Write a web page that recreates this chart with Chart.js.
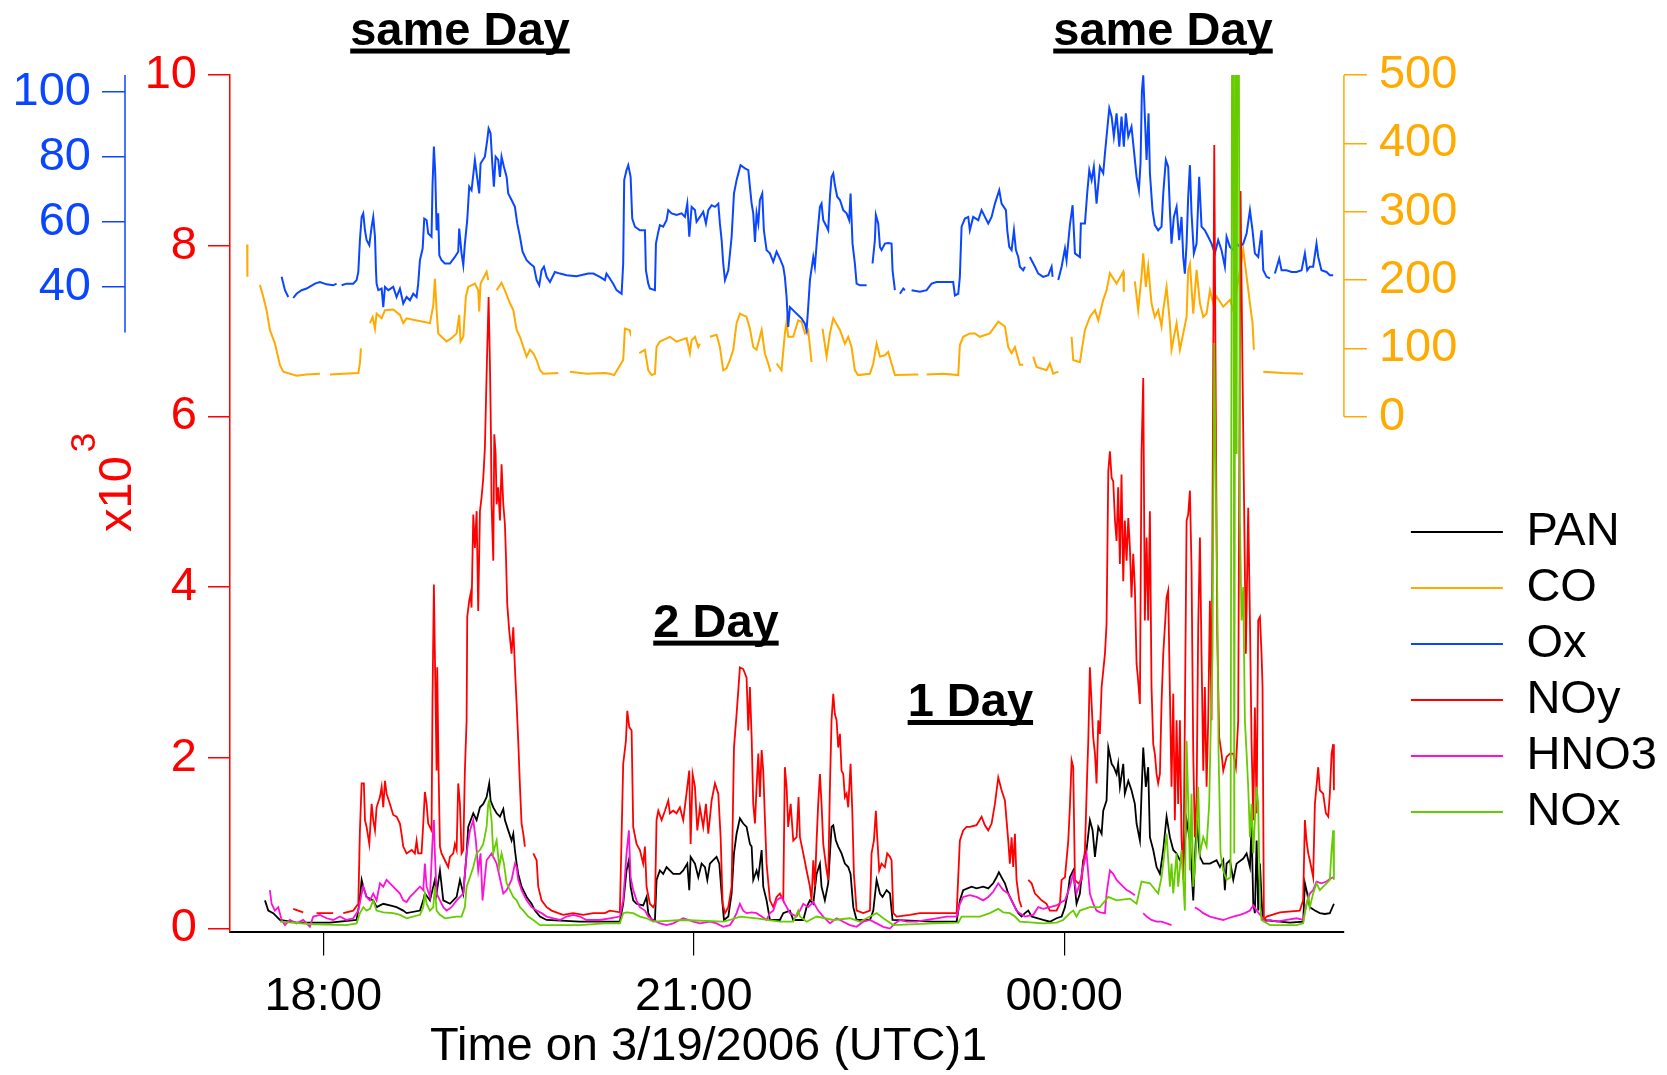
<!DOCTYPE html>
<html>
<head>
<meta charset="utf-8">
<script src="https://cdn.jsdelivr.net/npm/chart.js@4.4.1/dist/chart.umd.min.js"></script>
<style>
  html, body { margin: 0; padding: 0; background: #fff; }
  canvas { display: block; }
</style>
</head>
<body>
<canvas id="chart" width="1667" height="1075"></canvas>
<script>
// Time in decimal hours on 3/19/2006 UTC (24+ = after midnight), value pairs.
// NOy, PAN, HNO3, NOx are in units of the red axis (x10^3); gaps are nulls.
const timeTicks = [18, 21, 24];
const redTicks = [0, 2, 4, 6, 8, 10];
const oxTicks = [40, 60, 80, 100];
const coTicks = [0, 100, 200, 300, 400, 500];

const coPoints = [
  [17.384,252],[17.386,205],[17.40,null],
  [17.487,193],[17.514,176],[17.541,156],[17.568,127],[17.609,107],[17.649,76],[17.676,66],[17.784,60],[17.865,62],[17.973,63],[17.99,null],
  [18.054,62],[18.162,63],[18.284,64],[18.297,78],[18.305,100],[18.33,null],
  [18.378,137],[18.400,146],[18.419,129],[18.432,151],[18.473,144],[18.500,156],[18.567,157],[18.621,149],[18.648,137],[18.675,144],
  [18.756,141],[18.810,139],[18.864,137],[18.891,163],[18.904,202],[18.918,156],[18.931,122],[18.958,117],[18.999,110],[19.039,115],
  [19.080,122],[19.101,149],[19.112,110],[19.134,117],[19.155,176],[19.174,190],[19.228,195],[19.255,185],[19.263,154],[19.274,195],
  [19.323,212],[19.336,200],[19.35,null],
  [19.404,185],[19.444,196],[19.471,185],[19.512,166],[19.539,156],[19.566,127],[19.593,117],[19.620,102],[19.647,88],[19.674,98],
  [19.701,93],[19.728,83],[19.755,68],[19.782,63],[19.903,64],[19.93,null],
  [19.997,66],[20.132,63],[20.281,64],[20.321,63],[20.356,61],[20.429,83],[20.443,129],[20.478,127],[20.484,124],[20.50,null],
  [20.559,93],[20.605,98],[20.632,68],[20.659,61],[20.686,63],[20.699,102],[20.726,110],[20.807,117],[20.861,110],[20.942,115],
  [20.969,93],[20.983,112],[21.010,117],[21.037,102],[21.050,107],[21.07,null],
  [21.131,117],[21.185,120],[21.212,102],[21.239,68],[21.266,71],[21.293,83],[21.320,98],[21.347,137],[21.374,151],[21.428,146],
  [21.455,129],[21.482,102],[21.509,98],[21.550,127],[21.576,93],[21.603,78],[21.622,66],[21.64,null],
  [21.671,78],[21.711,68],[21.738,122],[21.752,139],[21.765,117],[21.806,117],[21.846,141],[21.873,139],[21.900,122],[21.927,127],[21.954,80],[21.97,null],
  [22.043,129],[22.076,88],[22.103,122],[22.130,144],[22.184,127],[22.224,107],[22.251,117],[22.278,102],[22.305,68],[22.332,61],
  [22.427,63],[22.454,78],[22.481,107],[22.508,88],[22.548,90],[22.575,95],[22.602,78],[22.629,61],[22.818,62],[22.84,null],
  [22.886,62],[23.020,63],[23.142,61],[23.155,105],[23.182,117],[23.236,122],[23.277,122],[23.317,117],[23.398,122],[23.466,139],
  [23.520,132],[23.547,102],[23.574,93],[23.601,102],[23.641,76],[23.668,76],[23.69,null],
  [23.749,88],[23.776,73],[23.857,68],[23.884,78],[23.911,63],[23.952,66],[23.99,null],
  [24.060,117],[24.073,83],[24.127,80],[24.168,127],[24.208,146],[24.249,156],[24.276,141],[24.316,171],[24.343,185],[24.370,210],
  [24.424,195],[24.478,212],[24.483,183],[24.50,null],
  [24.572,198],[24.599,156],[24.626,205],[24.640,239],[24.661,190],[24.680,220],[24.707,166],[24.734,146],[24.761,156],[24.788,132],
  [24.802,156],[24.829,190],[24.856,137],[24.869,98],[24.910,137],[24.937,98],[24.964,122],[24.991,146],[25.004,215],[25.018,224],
  [25.045,151],[25.072,215],[25.099,166],[25.126,146],[25.153,151],[25.180,185],[25.207,166],[25.234,176],[25.288,161],[25.315,166],
  [25.342,171],[25.369,156],[25.423,215],[25.450,244],[25.477,205],[25.504,166],[25.525,137],[25.536,98],[25.56,null],
  [25.612,66],[25.773,64],[25.935,63]
];

const oxPoints = [
  [17.663,43.1],[17.690,39.0],[17.717,36.9],[17.73,null],
  [17.757,36.6],[17.784,37.9],[17.825,39.0],[17.865,39.5],[17.933,41.0],[17.973,41.5],[18.027,40.8],[18.081,40.5],[18.108,41.0],[18.12,null],
  [18.149,40.5],[18.189,41.0],[18.243,41.0],[18.270,42.1],[18.284,44.6],[18.297,54.4],[18.311,61.5],[18.324,62.6],[18.338,57.4],[18.351,54.4],
  [18.373,52.8],[18.392,58.5],[18.405,61.5],[18.419,55.4],[18.427,45.1],[18.432,41.0],[18.446,39.0],[18.473,39.5],[18.486,33.8],[18.500,40.0],
  [18.527,39.0],[18.567,40.0],[18.594,36.9],[18.621,39.5],[18.648,34.9],[18.675,36.9],[18.702,35.9],[18.729,37.9],[18.756,36.9],[18.769,41.0],
  [18.783,48.2],[18.805,51.8],[18.818,61.0],[18.837,60.5],[18.850,56.4],[18.877,55.4],[18.885,71.3],[18.896,83.1],[18.907,74.9],[18.918,57.4],
  [18.931,62.6],[18.940,49.7],[18.958,48.2],[18.985,47.2],[19.026,47.2],[19.066,49.2],[19.093,50.8],[19.101,57.9],[19.120,50.3],[19.134,46.7],
  [19.147,53.3],[19.166,60.5],[19.182,70.8],[19.201,69.7],[19.228,79.0],[19.242,74.9],[19.263,68.7],[19.274,77.9],[19.309,80.0],[19.328,85.1],
  [19.339,88.7],[19.355,87.2],[19.369,77.9],[19.382,70.8],[19.396,80.0],[19.417,79.0],[19.431,73.8],[19.444,80.0],[19.463,76.9],[19.485,73.8],
  [19.498,68.7],[19.525,66.7],[19.552,64.6],[19.571,59.5],[19.593,55.4],[19.614,50.8],[19.647,48.2],[19.674,47.2],[19.706,46.2],[19.728,42.1],
  [19.749,40.5],[19.768,45.1],[19.787,46.2],[19.809,43.1],[19.836,41.5],[19.876,44.6],[19.917,44.1],[19.971,43.6],[20.051,43.3],[20.146,44.1],
  [20.187,44.1],[20.240,43.1],[20.281,42.1],[20.294,44.1],[20.321,42.6],[20.348,41.0],[20.375,39.0],[20.416,37.9],[20.429,47.2],[20.437,72.8],
  [20.456,75.9],[20.470,77.4],[20.489,73.8],[20.502,61.0],[20.524,58.5],[20.564,57.4],[20.605,57.4],[20.613,45.1],[20.632,41.0],[20.645,39.5],
  [20.686,39.0],[20.694,53.3],[20.713,56.9],[20.726,59.0],[20.753,58.5],[20.780,60.5],[20.794,63.6],[20.821,62.6],[20.861,62.1],[20.902,62.6],
  [20.929,61.5],[20.948,65.6],[20.964,55.4],[20.983,64.6],[21.010,63.6],[21.023,60.0],[21.050,61.5],[21.077,63.1],[21.099,59.5],[21.118,63.6],
  [21.145,65.1],[21.172,64.6],[21.199,65.6],[21.212,59.5],[21.226,54.4],[21.239,47.2],[21.253,42.1],[21.280,45.1],[21.307,55.4],[21.326,68.7],
  [21.347,72.8],[21.379,77.4],[21.415,76.4],[21.442,75.9],[21.455,70.8],[21.469,65.6],[21.482,62.6],[21.496,53.8],[21.509,62.6],[21.523,59.5],
  [21.536,66.7],[21.555,68.7],[21.568,57.4],[21.590,51.3],[21.617,50.3],[21.644,47.7],[21.671,50.8],[21.698,48.7],[21.725,46.2],[21.738,43.1],
  [21.752,36.9],[21.765,27.7],[21.779,33.8],[21.806,32.8],[21.833,31.8],[21.873,30.3],[21.900,28.7],[21.914,26.7],[21.927,33.8],[21.941,42.1],
  [21.968,49.2],[21.981,46.2],[22.000,55.4],[22.022,64.6],[22.035,65.6],[22.049,60.5],[22.076,58.5],[22.089,57.4],[22.103,67.7],[22.116,73.8],
  [22.130,74.9],[22.143,71.3],[22.162,67.7],[22.184,66.7],[22.211,63.6],[22.238,62.6],[22.259,60.5],[22.270,68.7],[22.286,53.3],[22.305,47.2],
  [22.319,41.0],[22.346,40.5],[22.400,40.5],[22.42,null],
  [22.448,47.2],[22.467,54.4],[22.475,62.1],[22.494,59.5],[22.508,52.3],[22.521,51.3],[22.548,53.3],[22.575,53.5],[22.602,53.3],[22.610,45.1],[22.629,39.0],[22.64,null],
  [22.670,37.9],[22.697,39.5],[22.710,39.0],[22.72,null],
  [22.764,39.0],[22.832,38.5],[22.886,39.0],[22.926,41.0],[22.967,41.5],[23.101,41.5],[23.115,37.4],[23.142,37.9],[23.155,43.1],[23.169,58.5],
  [23.196,61.0],[23.223,61.5],[23.236,57.4],[23.263,61.5],[23.304,60.5],[23.331,63.6],[23.358,61.5],[23.385,59.5],[23.412,61.5],[23.439,65.6],
  [23.474,69.7],[23.493,65.6],[23.528,63.6],[23.539,57.4],[23.555,52.3],[23.574,51.3],[23.593,57.4],[23.609,51.3],[23.628,49.2],[23.641,46.2],
  [23.668,45.1],[23.682,46.2],[23.70,null],
  [23.722,49.2],[23.763,46.2],[23.790,44.1],[23.830,43.1],[23.871,43.6],[23.898,46.2],[23.906,43.1],[23.92,null],
  [23.952,42.1],[23.979,46.2],[24.006,51.8],[24.019,48.2],[24.046,59.0],[24.068,65.1],[24.087,50.3],[24.127,49.2],[24.135,59.5],[24.168,59.5],
  [24.186,68.7],[24.203,75.9],[24.222,72.8],[24.240,76.9],[24.262,65.6],[24.289,76.9],[24.316,74.9],[24.330,81.0],[24.348,88.2],[24.365,94.9],
  [24.384,92.3],[24.402,86.2],[24.424,93.3],[24.446,83.1],[24.464,92.3],[24.483,83.1],[24.499,93.3],[24.519,86.2],[24.545,89.2],[24.564,82.1],
  [24.586,73.8],[24.605,69.7],[24.618,77.9],[24.629,100.0],[24.640,105.0],[24.651,94.4],[24.667,79.0],[24.683,93.3],[24.694,74.9],[24.715,63.6],
  [24.734,59.0],[24.761,57.4],[24.788,58.5],[24.802,68.7],[24.823,79.0],[24.842,76.9],[24.856,63.6],[24.869,53.3],[24.888,61.5],[24.910,64.6],
  [24.931,54.4],[24.950,61.5],[24.964,49.2],[24.977,44.1],[24.991,53.3],[25.004,67.7],[25.018,77.4],[25.031,62.6],[25.050,50.3],[25.072,53.3],
  [25.093,73.8],[25.112,58.5],[25.139,57.4],[25.166,55.4],[25.193,53.3],[25.220,50.3],[25.247,54.4],[25.274,51.3],[25.301,46.2],[25.315,55.4],
  [25.342,52.3],[25.369,51.3],[25.396,53.3],[25.423,52.3],[25.450,53.3],[25.477,56.4],[25.504,63.6],[25.525,57.4],[25.544,50.3],[25.571,49.2],
  [25.598,57.4],[25.612,45.1],[25.639,43.1],[25.666,42.6],[25.68,null],
  [25.706,44.1],[25.741,48.7],[25.760,45.1],[25.800,45.1],[25.841,44.6],[25.881,44.6],[25.922,45.1],[25.949,50.3],[25.968,45.1],[25.989,46.2],
  [26.016,46.2],[26.043,53.3],[26.057,49.2],[26.083,45.1],[26.124,44.6],[26.151,43.6],[26.178,43.6]
];

const noyPoints = [
  [17.757,0.23],[17.838,0.19],[17.85,null],
  [17.946,0.18],[18.081,0.18],[18.09,null],
  [18.162,0.18],[18.243,0.21],[18.284,0.29],[18.297,1.15],[18.311,1.70],[18.329,1.70],[18.338,1.27],[18.351,1.19],[18.373,0.99],[18.392,1.46],
  [18.405,1.27],[18.419,1.15],[18.432,1.42],[18.459,1.54],[18.473,1.66],[18.486,1.42],[18.500,1.73],[18.513,1.58],[18.540,1.46],[18.567,1.33],
  [18.594,1.31],[18.621,1.23],[18.634,1.11],[18.648,0.96],[18.675,0.88],[18.716,0.92],[18.742,0.88],[18.756,1.03],[18.769,0.88],[18.796,0.88],
  [18.810,1.23],[18.823,1.60],[18.837,1.46],[18.850,1.23],[18.877,1.15],[18.885,2.71],[18.896,4.03],[18.904,3.22],[18.918,1.85],[18.923,3.06],
  [18.934,1.85],[18.945,0.96],[18.958,0.88],[18.985,0.80],[19.012,0.72],[19.026,0.84],[19.053,0.88],[19.066,0.99],[19.080,0.92],[19.093,1.70],
  [19.107,1.46],[19.120,0.88],[19.134,0.92],[19.147,1.85],[19.161,2.44],[19.166,3.65],[19.182,3.84],[19.193,3.92],[19.201,3.76],[19.215,4.85],
  [19.228,4.46],[19.242,4.89],[19.255,3.72],[19.269,4.89],[19.282,5.05],[19.296,5.28],[19.309,5.63],[19.323,6.5],[19.339,7.4],[19.350,6.6],
  [19.358,5.8],[19.363,4.97],[19.377,4.31],[19.385,5.79],[19.396,5.56],[19.404,4.97],[19.417,5.17],[19.431,4.78],[19.444,5.44],[19.458,4.97],
  [19.471,4.74],[19.479,4.39],[19.490,3.80],[19.506,3.49],[19.525,3.22],[19.539,3.53],[19.552,3.06],[19.566,2.63],[19.579,2.20],[19.593,1.66],
  [19.606,1.23],[19.620,1.11],[19.633,0.96],[19.65,null],
  [19.701,0.88],[19.728,0.80],[19.741,0.49],[19.768,0.33],[19.809,0.25],[19.849,0.21],[19.903,0.18],[19.943,0.16],[20.024,0.18],[20.105,0.16],
  [20.187,0.18],[20.281,0.18],[20.321,0.21],[20.402,0.19],[20.429,1.93],[20.451,2.20],[20.462,2.55],[20.478,2.36],[20.497,2.32],[20.510,1.19],
  [20.537,0.99],[20.564,0.92],[20.591,0.76],[20.605,0.96],[20.618,0.49],[20.645,0.29],[20.672,0.25],[20.686,0.29],[20.699,1.27],[20.713,1.38],
  [20.740,1.27],[20.767,1.38],[20.794,1.50],[20.807,1.35],[20.834,1.38],[20.861,1.35],[20.888,1.42],[20.915,1.27],[20.948,1.66],[20.964,1.85],
  [20.975,0.99],[20.991,1.81],[21.010,1.66],[21.029,1.15],[21.050,1.42],[21.077,1.19],[21.099,1.46],[21.118,1.11],[21.145,1.50],[21.172,1.70],
  [21.199,1.58],[21.218,1.07],[21.234,0.29],[21.253,0.18],[21.280,0.25],[21.307,0.49],[21.326,2.12],[21.347,2.51],[21.361,2.79],[21.374,3.06],
  [21.401,3.04],[21.428,2.94],[21.442,2.32],[21.455,2.83],[21.469,2.24],[21.482,1.46],[21.496,1.23],[21.509,1.66],[21.523,2.05],[21.536,1.54],
  [21.550,2.09],[21.563,1.85],[21.577,1.27],[21.590,0.76],[21.617,0.33],[21.644,0.25],[21.671,0.37],[21.698,0.41],[21.725,0.33],[21.738,1.89],
  [21.752,1.66],[21.765,1.19],[21.785,1.46],[21.806,1.03],[21.833,1.07],[21.849,1.54],[21.860,1.07],[21.887,0.88],[21.914,0.68],[21.941,0.49],
  [21.954,0.33],[21.968,0.80],[21.981,0.49],[21.995,1.03],[22.008,1.46],[22.022,1.81],[22.035,1.46],[22.049,0.99],[22.076,0.68],[22.089,0.57],
  [22.103,1.66],[22.116,2.44],[22.130,2.75],[22.143,2.51],[22.157,2.44],[22.170,2.12],[22.184,2.28],[22.197,1.85],[22.211,1.81],[22.224,1.54],
  [22.238,1.58],[22.251,1.42],[22.270,1.93],[22.284,1.38],[22.297,0.64],[22.319,0.21],[22.373,0.18],[22.427,0.21],[22.440,0.88],[22.459,1.03],
  [22.475,1.38],[22.486,1.07],[22.502,0.68],[22.521,0.76],[22.548,0.72],[22.567,0.88],[22.589,0.84],[22.602,0.80],[22.616,0.18],[22.643,0.14],
  [22.751,0.16],[22.832,0.18],[22.940,0.18],[23.048,0.18],[23.129,0.18],[23.155,1.03],[23.182,1.15],[23.209,1.19],[23.236,1.19],[23.290,1.21],
  [23.331,1.31],[23.358,1.21],[23.385,1.15],[23.412,1.23],[23.439,1.46],[23.466,1.77],[23.493,1.62],[23.520,1.50],[23.533,1.27],[23.547,1.03],
  [23.560,0.76],[23.574,1.07],[23.587,0.72],[23.601,1.11],[23.614,0.57],[23.636,0.33],[23.655,0.25],[23.67,null],
  [23.709,0.57],[23.736,0.53],[23.763,0.41],[23.790,0.37],[23.817,0.33],[23.857,0.29],[23.884,0.21],[23.938,0.21],[23.965,0.29],[23.979,0.57],
  [24.006,0.60],[24.033,1.03],[24.046,1.42],[24.060,1.97],[24.073,1.89],[24.087,0.57],[24.114,0.53],[24.141,0.57],[24.168,0.92],[24.186,1.81],
  [24.195,2.20],[24.208,3.06],[24.222,2.63],[24.235,2.24],[24.249,2.05],[24.262,1.70],[24.276,2.44],[24.289,2.28],[24.303,2.83],[24.330,3.22],
  [24.343,3.57],[24.357,5.36],[24.370,5.59],[24.384,5.28],[24.397,5.24],[24.411,4.78],[24.424,4.54],[24.437,5.17],[24.451,4.27],[24.464,5.32],
  [24.478,4.07],[24.491,4.78],[24.505,4.31],[24.519,4.81],[24.532,4.46],[24.545,3.88],[24.559,4.39],[24.572,4.00],[24.586,3.10],[24.599,2.90],
  [24.613,2.63],[24.626,5.56],[24.640,6.45],[24.653,3.61],[24.667,4.58],[24.680,3.61],[24.694,4.89],[24.707,2.83],[24.721,2.16],[24.734,2.05],
  [24.748,1.81],[24.761,1.70],[24.775,1.81],[24.788,2.63],[24.802,3.22],[24.815,3.53],[24.829,3.88],[24.842,3.96],[24.856,2.75],[24.869,1.66],
  [24.883,2.75],[24.896,1.27],[24.910,2.44],[24.923,1.46],[24.937,2.44],[24.950,1.07],[24.964,0.57],[24.977,2.44],[24.991,4.78],[25.004,4.85],
  [25.018,5.13],[25.031,4.23],[25.045,2.05],[25.058,1.07],[25.072,1.54],[25.085,3.53],[25.099,4.58],[25.112,3.22],[25.126,1.85],[25.139,2.83],
  [25.153,1.66],[25.166,2.44],[25.180,3.84],[25.193,2.44],[25.215,9.18],[25.228,6.0],[25.239,3.45],[25.255,2.24],[25.274,2.05],[25.288,1.85],
  [25.315,2.01],[25.342,2.05],[25.369,2.05],[25.390,1.89],[25.409,2.44],[25.428,8.64],[25.444,6.5],[25.455,5.17],[25.471,3.22],[25.490,4.93],
  [25.504,3.61],[25.517,2.20],[25.531,1.27],[25.544,2.59],[25.558,1.35],[25.571,3.61],[25.585,3.65],[25.598,3.22],[25.606,2.83],[25.617,0.10],
  [25.639,0.14],[25.747,0.19],[25.908,0.21],[25.935,0.33],[25.949,1.27],[25.962,1.03],[25.976,0.88],[25.989,0.80],[26.016,0.60],[26.030,1.46],
  [26.057,1.89],[26.070,1.62],[26.097,1.58],[26.119,1.35],[26.138,1.31],[26.151,1.58],[26.165,2.05],[26.178,2.16],[26.184,1.62]
];

const panPoints = [
  [17.528,0.33],[17.555,0.21],[17.595,0.18],[17.649,0.10],[17.784,0.07],[18.054,0.07],[18.270,0.10],[18.292,0.29],[18.311,0.57],[18.324,0.49],
  [18.351,0.37],[18.405,0.33],[18.432,0.25],[18.486,0.29],[18.540,0.27],[18.594,0.25],[18.648,0.21],[18.675,0.18],[18.783,0.21],[18.810,0.33],
  [18.823,0.41],[18.864,0.33],[18.904,0.57],[18.918,0.41],[18.945,0.68],[18.972,0.33],[19.026,0.29],[19.080,0.37],[19.107,0.57],[19.134,0.41],
  [19.161,0.88],[19.174,1.19],[19.215,1.35],[19.242,1.27],[19.269,1.42],[19.296,1.46],[19.323,1.54],[19.344,1.70],[19.355,1.50],[19.377,1.42],
  [19.404,1.35],[19.431,1.31],[19.458,1.40],[19.471,1.27],[19.498,1.15],[19.525,1.03],[19.539,1.11],[19.552,0.92],[19.566,0.76],[19.579,0.64],
  [19.606,0.49],[19.647,0.37],[19.687,0.29],[19.714,0.21],[19.755,0.14],[19.809,0.10],[20.078,0.08],[20.281,0.08],[20.402,0.08],[20.429,0.29],
  [20.456,0.68],[20.475,0.80],[20.489,0.49],[20.510,0.33],[20.537,0.29],[20.591,0.27],[20.618,0.37],[20.632,0.18],[20.659,0.10],[20.686,0.10],
  [20.699,0.57],[20.726,0.68],[20.753,0.64],[20.780,0.72],[20.834,0.64],[20.888,0.64],[20.915,0.68],[20.948,0.76],[20.964,0.45],[20.975,0.84],
  [21.010,0.76],[21.037,0.60],[21.064,0.76],[21.091,0.72],[21.110,0.57],[21.131,0.76],[21.158,0.80],[21.185,0.84],[21.207,0.76],[21.226,0.41],
  [21.245,0.10],[21.280,0.14],[21.307,0.41],[21.326,0.88],[21.347,1.11],[21.374,1.29],[21.401,1.23],[21.428,1.19],[21.455,0.99],[21.469,0.96],
  [21.482,0.57],[21.509,0.68],[21.523,0.60],[21.550,0.92],[21.563,0.49],[21.590,0.33],[21.617,0.10],[21.698,0.10],[21.725,0.18],[21.779,0.21],
  [21.806,0.10],[21.887,0.10],[21.914,0.25],[21.941,0.33],[21.968,0.29],[21.995,0.64],[22.022,0.76],[22.035,0.49],[22.062,0.33],[22.089,0.53],
  [22.116,1.19],[22.130,1.21],[22.151,1.03],[22.170,0.96],[22.197,0.88],[22.224,0.76],[22.251,0.72],[22.270,0.64],[22.292,0.25],[22.319,0.10],
  [22.427,0.10],[22.454,0.21],[22.481,0.57],[22.508,0.41],[22.529,0.37],[22.562,0.45],[22.589,0.41],[22.610,0.10],[22.939,0.08],[23.129,0.08],
  [23.155,0.33],[23.182,0.45],[23.250,0.49],[23.290,0.47],[23.344,0.49],[23.385,0.47],[23.425,0.53],[23.452,0.60],[23.471,0.66],[23.493,0.60],
  [23.520,0.53],[23.547,0.41],[23.574,0.33],[23.601,0.25],[23.628,0.18],[23.655,0.14],[23.682,0.18],[23.709,0.21],[23.736,0.14],[23.830,0.10],
  [23.884,0.08],[23.938,0.12],[23.979,0.14],[24.006,0.25],[24.033,0.45],[24.046,0.60],[24.073,0.68],[24.100,0.29],[24.127,0.41],[24.154,0.80],
  [24.181,0.92],[24.208,1.27],[24.230,1.15],[24.249,0.84],[24.276,1.19],[24.303,1.11],[24.316,1.38],[24.343,1.50],[24.357,2.12],[24.384,1.93],
  [24.402,1.89],[24.424,1.81],[24.437,1.93],[24.451,1.66],[24.478,1.93],[24.491,1.58],[24.519,1.73],[24.545,1.62],[24.572,1.46],[24.586,1.23],
  [24.613,1.03],[24.626,1.58],[24.640,2.12],[24.661,1.66],[24.680,1.89],[24.694,1.07],[24.721,0.92],[24.748,0.72],[24.775,0.64],[24.802,0.92],
  [24.829,1.31],[24.856,1.07],[24.883,0.92],[24.910,0.88],[24.937,0.80],[24.964,0.76],[24.991,1.27],[25.018,1.03],[25.045,0.33],[25.072,1.27],
  [25.099,0.84],[25.126,0.76],[25.180,0.76],[25.234,0.80],[25.261,0.72],[25.288,0.80],[25.301,0.45],[25.315,0.76],[25.342,0.80],[25.369,0.57],
  [25.396,0.76],[25.450,0.82],[25.477,0.88],[25.504,0.72],[25.517,1.19],[25.531,0.29],[25.544,0.18],[25.558,1.03],[25.571,0.21],[25.585,0.76],
  [25.606,0.10],[25.827,0.07],[25.935,0.08],[25.949,0.53],[25.968,0.41],[25.989,0.25],[26.030,0.21],[26.070,0.18],[26.111,0.17],[26.151,0.18],
  [26.184,0.29]
];

const hno3Points = [
  [17.568,0.45],[17.582,0.29],[17.609,0.21],[17.636,0.25],[17.663,0.10],[17.690,0.04],[17.730,0.10],[17.784,0.06],[17.838,0.10],[17.892,0.02],
  [17.919,0.14],[17.973,0.16],[18.027,0.12],[18.081,0.10],[18.135,0.14],[18.189,0.10],[18.243,0.12],[18.284,0.21],[18.311,0.41],[18.324,0.49],
  [18.351,0.37],[18.378,0.33],[18.405,0.41],[18.432,0.33],[18.459,0.53],[18.486,0.49],[18.513,0.57],[18.540,0.53],[18.567,0.49],[18.594,0.45],
  [18.621,0.41],[18.648,0.33],[18.675,0.31],[18.702,0.37],[18.729,0.41],[18.756,0.45],[18.783,0.49],[18.810,0.45],[18.823,0.76],[18.837,0.49],
  [18.864,0.37],[18.885,1.03],[18.896,1.27],[18.904,0.88],[18.918,0.41],[18.945,0.33],[18.972,0.25],[18.999,0.21],[19.039,0.25],[19.080,0.33],
  [19.107,0.37],[19.134,0.41],[19.161,0.88],[19.188,1.15],[19.215,1.27],[19.236,1.03],[19.255,0.68],[19.274,0.88],[19.290,0.33],[19.323,0.80],
  [19.363,0.88],[19.404,0.76],[19.458,0.41],[19.485,0.45],[19.525,0.57],[19.552,0.76],[19.566,0.72],[19.579,0.57],[19.606,0.45],[19.647,0.33],
  [19.687,0.25],[19.728,0.21],[19.768,0.18],[19.809,0.14],[19.863,0.12],[19.917,0.10],[19.971,0.14],[20.024,0.16],[20.078,0.14],[20.132,0.10],
  [20.240,0.10],[20.321,0.12],[20.402,0.14],[20.429,0.33],[20.456,0.88],[20.475,1.15],[20.489,0.60],[20.510,0.45],[20.537,0.33],[20.564,0.25],
  [20.605,0.21],[20.632,0.14],[20.672,0.10],[20.726,0.06],[20.780,0.04],[20.834,0.06],[20.915,0.12],[20.996,0.08],[21.050,0.06],[21.131,0.08],
  [21.185,0.06],[21.239,0.02],[21.293,0.04],[21.320,0.10],[21.347,0.18],[21.374,0.29],[21.401,0.21],[21.428,0.18],[21.469,0.19],[21.509,0.18],
  [21.550,0.14],[21.590,0.10],[21.617,0.18],[21.644,0.21],[21.671,0.33],[21.711,0.37],[21.738,0.29],[21.779,0.18],[21.833,0.14],[21.860,0.21],
  [21.887,0.29],[21.927,0.25],[21.968,0.31],[22.008,0.21],[22.049,0.14],[22.103,0.06],[22.157,0.12],[22.211,0.08],[22.265,0.04],[22.319,0.02],
  [22.373,0.08],[22.427,0.10],[22.481,0.06],[22.535,0.02],[22.589,0.00],[22.629,0.06],[22.670,0.10],[22.724,0.08],[22.805,0.08],[22.886,0.10],
  [22.967,0.12],[23.048,0.14],[23.129,0.14],[23.155,0.29],[23.182,0.37],[23.236,0.39],[23.290,0.37],[23.344,0.33],[23.385,0.37],[23.425,0.43],
  [23.466,0.53],[23.506,0.45],[23.547,0.41],[23.587,0.29],[23.614,0.21],[23.641,0.18],[23.682,0.14],[23.749,0.16],[23.790,0.25],[23.830,0.23],
  [23.884,0.25],[23.938,0.27],[23.979,0.31],[24.006,0.33],[24.046,0.49],[24.073,0.64],[24.100,0.41],[24.127,0.53],[24.154,0.72],[24.181,0.88],
  [24.195,0.64],[24.208,0.41],[24.235,0.29],[24.262,0.21],[24.289,0.19],[24.330,0.18],[24.343,0.41],[24.370,0.68],[24.397,0.64],[24.424,0.57],
  [24.451,0.53],[24.478,0.49],[24.505,0.45],[24.532,0.43],[24.572,0.39],[24.59,null],
  [24.640,0.18],[24.667,0.14],[24.707,0.10],[24.748,0.08],[24.788,0.08],[24.829,0.06],[24.869,0.04],[24.95,null],
  [25.058,0.25],[25.099,0.21],[25.126,0.18],[25.180,0.14],[25.234,0.12],[25.288,0.10],[25.328,0.12],[25.369,0.14],[25.423,0.16],[25.463,0.18],
  [25.504,0.21],[25.531,0.27],[25.558,0.21],[25.598,0.14],[25.625,0.08],[25.666,0.10],[25.719,0.08],[25.800,0.10],[25.881,0.12],[25.935,0.10],
  [25.962,0.29],[25.989,0.41],[26.016,0.45],[26.043,0.55],[26.083,0.53],[26.124,0.55],[26.151,0.58],[26.178,0.60]
];

const noxPoints = [
  [17.649,0.08],[17.919,0.05],[18.189,0.04],[18.270,0.06],[18.297,0.18],[18.324,0.25],[18.351,0.21],[18.378,0.23],[18.405,0.33],[18.432,0.21],
  [18.486,0.19],[18.567,0.18],[18.621,0.16],[18.675,0.12],[18.783,0.16],[18.810,0.25],[18.823,0.41],[18.837,0.29],[18.864,0.21],[18.891,0.25],
  [18.904,0.49],[18.918,0.21],[18.945,0.16],[18.985,0.12],[19.080,0.14],[19.120,0.14],[19.147,0.25],[19.161,0.49],[19.188,0.60],[19.215,0.72],
  [19.242,0.88],[19.269,0.92],[19.296,0.99],[19.323,1.19],[19.336,1.46],[19.344,1.50],[19.363,1.27],[19.377,0.88],[19.390,0.96],[19.404,1.03],
  [19.425,0.72],[19.444,0.88],[19.463,0.76],[19.485,0.53],[19.512,0.45],[19.539,0.37],[19.566,0.33],[19.593,0.25],[19.620,0.21],[19.660,0.14],
  [19.701,0.10],[19.755,0.04],[20.078,0.04],[20.281,0.06],[20.402,0.06],[20.429,0.18],[20.456,0.19],[20.510,0.18],[20.564,0.14],[20.618,0.12],
  [20.672,0.08],[20.915,0.10],[21.239,0.08],[21.293,0.10],[21.374,0.14],[21.509,0.12],[21.698,0.08],[21.806,0.08],[21.846,0.21],[21.860,0.14],
  [21.914,0.08],[21.995,0.14],[22.130,0.10],[22.265,0.12],[22.346,0.08],[22.427,0.14],[22.481,0.18],[22.535,0.12],[22.616,0.04],[22.939,0.06],
  [23.143,0.07],[23.169,0.14],[23.236,0.14],[23.317,0.14],[23.398,0.18],[23.466,0.23],[23.506,0.19],[23.560,0.18],[23.601,0.14],[23.641,0.08],
  [23.830,0.06],[23.938,0.07],[23.992,0.10],[24.046,0.18],[24.073,0.21],[24.100,0.14],[24.127,0.21],[24.208,0.25],[24.289,0.25],[24.357,0.37],
  [24.424,0.33],[24.532,0.35],[24.586,0.29],[24.626,0.55],[24.694,0.53],[24.761,0.41],[24.788,0.60],[24.802,0.76],[24.829,1.11],[24.856,0.49],
  [24.869,0.76],[24.883,0.41],[24.910,0.88],[24.923,0.49],[24.950,0.92],[24.977,0.21],[24.991,2.20],[25.004,1.50],[25.018,0.68],[25.031,1.58],
  [25.045,0.49],[25.066,0.88],[25.085,1.66],[25.099,0.88],[25.126,1.07],[25.153,0.96],[25.174,1.46],[25.185,2.24],[25.201,3.22],[25.215,6.86],
  [25.228,5.17],[25.239,4.00],[25.250,2.05],[25.266,0.88],[25.288,0.68],[25.315,0.57],[25.347,0.60],[25.361,12],[25.369,12],[25.377,0.88],
  [25.388,12],[25.396,5.56],[25.404,12],[25.412,12],[25.423,4.78],[25.436,3.61],[25.450,4.00],[25.463,2.44],[25.477,2.05],[25.490,1.66],
  [25.504,1.07],[25.517,1.46],[25.531,0.88],[25.544,1.27],[25.558,1.66],[25.571,1.46],[25.585,0.29],[25.598,0.10],[25.666,0.04],[25.881,0.04],
  [25.935,0.06],[25.949,0.18],[25.976,0.37],[25.989,0.25],[26.016,0.41],[26.043,0.53],[26.070,0.45],[26.097,0.49],[26.124,0.53],[26.151,0.57],
  [26.165,0.92],[26.178,1.15],[26.184,0.57]
];

// text notes placed in data coordinates (hours, red-axis units)
const notes = [
  { text: 'same Day', t: 19.107, v: 10.357 },
  { text: 'same Day', t: 24.80, v: 10.357 },
  { text: '2 Day', t: 21.18, v: 3.42 },
  { text: '1 Day', t: 23.24, v: 2.49 }
];

const RED = '#ff0000', BLUE = '#0a46ff', ORANGE = '#ffaa00', GREEN = '#66cc00', MAGENTA = '#ff10d8';
const FONT = '"Liberation Sans", Arial, Helvetica, sans-serif';
Chart.defaults.font.family = FONT;

const toXY = pts => pts.map(p => ({ x: p[0], y: p[1] }));

// extra drawing: partial axis lines, notes, red axis label
const decorations = {
  id: 'decorations',
  beforeDraw(chart) {
    // CO labels sit over the legend column; let them run past the narrow axis box
    chart.scales.yCO.right = chart.width;
  },
  afterDraw(chart) {
    const { ctx, scales } = chart;
    const x = scales.x, y = scales.y, yOx = scales.yOx, yCO = scales.yCO;
    ctx.save();
    ctx.lineWidth = 1.5;
    ctx.strokeStyle = BLUE;
    ctx.beginPath();
    ctx.moveTo(yOx.right, yOx.getPixelForValue(26));
    ctx.lineTo(yOx.right, yOx.top);
    ctx.stroke();
    ctx.strokeStyle = ORANGE;
    ctx.beginPath();
    ctx.moveTo(yCO.left, yCO.getPixelForValue(0));
    ctx.lineTo(yCO.left, yCO.getPixelForValue(500));
    ctx.stroke();

    ctx.fillStyle = '#000';
    ctx.font = 'bold 47px ' + FONT;
    ctx.textAlign = 'center';
    ctx.textBaseline = 'alphabetic';
    notes.forEach(n => {
      const px = x.getPixelForValue(n.t), py = y.getPixelForValue(n.v);
      const w = ctx.measureText(n.text).width;
      ctx.fillText(n.text, px, py);
      ctx.fillRect(px - w / 2, py + 4, w, 5);
    });

    // x10^3 label of the red axis
    ctx.translate(y.left + 6, chart.chartArea.top + 457);
    ctx.rotate(-Math.PI / 2);
    ctx.fillStyle = RED;
    ctx.textAlign = 'left';
    ctx.font = '47px ' + FONT;
    ctx.fillText('x10', 0, 0);
    const w = ctx.measureText('x10').width;
    ctx.font = '35px ' + FONT;
    ctx.fillText('3', w + 4, -36);
    ctx.restore();
  }
};

const line = (label, pts, axis, color, width, order) => ({
  label, data: toXY(pts), yAxisID: axis, borderColor: color, backgroundColor: color,
  borderWidth: width, pointRadius: 0, tension: 0, spanGaps: false, fill: false, order
});

new Chart(document.getElementById('chart'), {
  type: 'line',
  data: {
    datasets: [
      line('PAN', panPoints, 'y', '#000000', 1.8, 5),
      line('CO', coPoints, 'yCO', ORANGE, 2, 4),
      line('Ox', oxPoints, 'yOx', BLUE, 2, 3),
      line('NOy', noyPoints, 'y', RED, 1.8, 2),
      line('HNO3', hno3Points, 'y', MAGENTA, 1.8, 1),
      line('NOx', noxPoints, 'y', GREEN, 1.8, 0)
    ]
  },
  options: {
    responsive: false,
    animation: false,
    devicePixelRatio: 1,
    events: [],
    layout: { padding: { top: 75, left: 0, right: 0, bottom: 0 } },
    scales: {
      x: {
        type: 'linear', position: 'bottom', min: 17.245, max: 26.265,
        afterBuildTicks: s => { s.ticks = timeTicks.map(v => ({ value: v })); },
        afterFit: s => { s.height = 143.5; },
        ticks: {
          callback: v => String(v % 24).padStart(2, '0') + ':00',
          color: '#000', font: { size: 47, lineHeight: 1.2 }, padding: 13, maxRotation: 0, autoSkip: false
        },
        grid: { drawOnChartArea: false, tickLength: 24, color: '#000', lineWidth: 1.2 },
        border: { color: '#000', width: 2 },
        title: {
          display: true,
          text: 'Time on 3/19/2006 (UTC)1\u00a0\u00a0\u00a0\u00a0\u00a0\u00a0\u00a0\u00a0\u00a0\u00a0\u00a0\u00a0',
          color: '#000', font: { size: 47, lineHeight: 1.2 }, padding: 0
        }
      },
      y: {
        type: 'linear', position: 'left', weight: 1, min: -0.035, max: 10,
        afterBuildTicks: s => { s.ticks = redTicks.map(v => ({ value: v })); },
        afterFit: s => { s.width = 105; },
        ticks: { color: RED, font: { size: 47 }, padding: 11 },
        grid: { drawOnChartArea: false, tickLength: 22, color: RED, lineWidth: 1.5 },
        border: { color: RED, width: 1.5 }
      },
      yOx: {
        type: 'linear', position: 'left', weight: 2, min: -158, max: 105.1,
        afterBuildTicks: s => { s.ticks = oxTicks.map(v => ({ value: v })); },
        afterFit: s => { s.width = 125; },
        ticks: { color: BLUE, font: { size: 47 }, padding: 11 },
        grid: { drawOnChartArea: false, tickLength: 23, color: BLUE, lineWidth: 1.5 },
        border: { display: false }
      },
      yCO: {
        type: 'linear', position: 'right', min: -753, max: 500,
        afterBuildTicks: s => { s.ticks = coTicks.map(v => ({ value: v })); },
        afterFit: s => { s.width = 58; },
        ticks: { color: ORANGE, font: { size: 47 }, padding: 12 },
        grid: { drawOnChartArea: false, tickLength: 23, color: ORANGE, lineWidth: 1.5 },
        border: { display: false }
      }
    },
    plugins: {
      tooltip: { enabled: false },
      legend: {
        position: 'right', align: 'start', maxWidth: 300,
        title: { display: true, text: '', font: { size: 10, lineHeight: 1 }, padding: { top: 414.5, bottom: 0 } },
        labels: {
          boxWidth: 92, boxHeight: 0, padding: 9, color: '#000', font: { size: 47 },
          sort: (a, b) => a.datasetIndex - b.datasetIndex
        }
      }
    }
  },
  plugins: [decorations]
});
</script>
</body>
</html>
